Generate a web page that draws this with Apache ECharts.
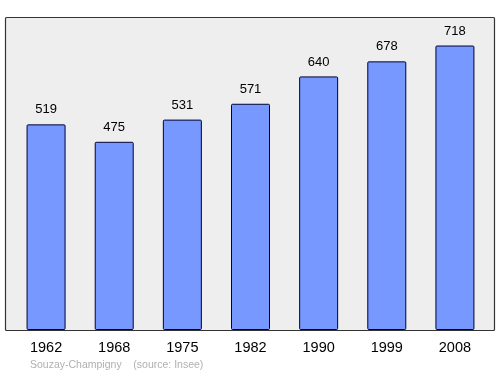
<!DOCTYPE html>
<html><head><meta charset="utf-8">
<script src="https://cdn.jsdelivr.net/npm/echarts@6/dist/echarts.min.js"></script>
<style>html,body{margin:0;padding:0;background:#fff}#c{width:500px;height:374px}</style>
</head><body><div id="c"></div>
<script>
const years = ['1962','1968','1975','1982','1990','1999','2008'];
const population = [519, 475, 531, 571, 640, 678, 718];
const footer = 'Souzay-Champigny    (source: Insee)';

const F = '"Liberation Sans", Arial, sans-serif';
const chart = echarts.init(document.getElementById('c'), null, {renderer:'canvas'});
chart.setOption({
  animation:false,
  graphic:[
    {type:'rect', z:-10, shape:{x:5.5,y:17.5,width:489,height:313,r:1}, style:{fill:'#eeeeee',stroke:'#333333',lineWidth:1.2}},
    {type:'text', left:30, top:359.5, style:{text:footer, fill:'#b0b0b0', font:'10.5px ' + F}}
  ],
  grid:{left:12, top:17, width:477, height:313},
  xAxis:{type:'category', data:years, axisLine:{show:false}, axisTick:{show:false},
    axisLabel:{color:'#000', fontSize:14.5, margin:10, fontFamily:F}},
  yAxis:{type:'value', min:0, max:790, show:false, splitLine:{show:false}},
  series:[{type:'bar', data:population, barWidth:39,
    itemStyle:{color:'#7799ff', borderColor:'#000033', borderWidth:1, borderRadius:1},
    label:{show:true, position:'top', distance:8, color:'#000', fontSize:13, fontFamily:F}}]
});
</script></body></html>
